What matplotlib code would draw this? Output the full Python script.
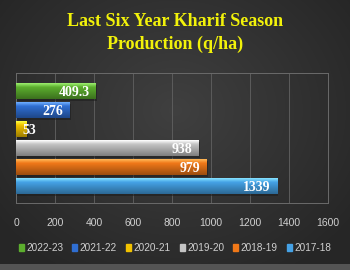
import numpy as np
import matplotlib
matplotlib.use("Agg")
import matplotlib.pyplot as plt
from matplotlib.colors import to_rgb

years = ["2017-18", "2018-19", "2019-20", "2020-21", "2021-22", "2022-23"]
values = [1339, 979, 938, 53, 276, 409.3]
labels = ["1339", "979", "938", "53", "276", "409.3"]
colors = ["#45a2e6", "#f07818", "#c4c4c4", "#f2c200", "#2f6ed2", "#5cae2e"]
xticks = [0, 200, 400, 600, 800, 1000, 1200, 1400, 1600]
title = "Last Six Year Kharif Season\nProduction (q/ha)"

fig = plt.figure(figsize=(3.5, 2.7), dpi=100)

# background gradient
bg = fig.add_axes([0, 0, 1, 1], zorder=-10)
yy, xx = np.mgrid[0:270, 0:350]
r = np.sqrt(((xx - 175) / 220) ** 2 + ((yy - 110) / 190) ** 2)
v = 0.25 - 0.10 * np.clip(r, 0, 1)
img = np.dstack([v, v, v])
img[264:, :, :] = 0.33
bg.imshow(img, aspect="auto", extent=[0, 1, 0, 1], origin="upper")
bg.set_axis_off()

ax = fig.add_axes([16 / 350, 1 - 203 / 270, (328 - 16) / 350, (203 - 73) / 270])
ax.set_facecolor("none")
ypos = np.arange(len(years))
bars = ax.barh(ypos, values, height=0.84, color=colors, zorder=3)

for b, c in zip(bars, colors):
    rgb = np.array(to_rgb(c))
    t = np.linspace(0, 1, 32)[:, None]
    light = np.clip(rgb + 0.25, 0, 1)
    dark = rgb * 0.65
    grad = np.where(t < 0.25, light + (rgb - light) * (t / 0.25), rgb + (dark - rgb) * ((t - 0.25) / 0.75))
    grad = grad[:, None, :].repeat(2, axis=1)
    x0, y0 = b.get_x(), b.get_y()
    w, h = b.get_width(), b.get_height()
    im = ax.imshow(grad, aspect="auto", extent=[x0, x0 + w, y0, y0 + h], origin="upper", zorder=4)
    im.set_clip_path(b)
    ax.barh(b.get_y() + h / 2 - 0.08, w, height=h, left=x0 + 6, color="#1a1a1a", alpha=0.5, zorder=2)

for yv, val, lab in zip(ypos, values, labels):
    if val < 100:
        ax.annotate(lab, (val, yv), xytext=(-3, -0.5), textcoords="offset points", ha="left", va="center",
                    color="white", fontsize=10, fontweight="bold", family="Liberation Serif", zorder=6)
    else:
        ax.annotate(lab, (val, yv), xytext=(-4.5, -0.5), textcoords="offset points", ha="right", va="center",
                    color="white", fontsize=10, fontweight="bold", family="Liberation Serif", zorder=6)

ax.set_xlim(0, 1600)
ax.set_ylim(-0.87, 5.97)
ax.set_xticks(xticks)
ax.set_xticklabels([str(t) for t in xticks])
ax.set_yticks([])
ax.tick_params(axis="x", length=0, pad=11, colors="#d0d0d0", labelsize=7.5)
for lbl in ax.get_xticklabels():
    lbl.set_family("Liberation Sans")
ax.grid(axis="x", color="#5c5c5c", linewidth=0.7, zorder=0)
for s in ax.spines.values():
    s.set_color("#6a6a6a")
    s.set_linewidth(0.7)

fig.text(0.5, 1 - 33 / 270, title, ha="center", va="center", color="#f2f20a", fontsize=13,
         fontweight="bold", family="Liberation Serif", linespacing=1.45)

order = [5, 4, 3, 2, 1, 0]
handles = [plt.Rectangle((0, 0), 1, 1, color=colors[i]) for i in order]
leg = fig.legend(handles, [years[i] for i in order], loc="center", bbox_to_anchor=(0.5, 1 - 248 / 270),
                 ncol=6, frameon=False, handlelength=0.5, handleheight=0.8,
                 handletextpad=0.25, columnspacing=0.9, labelcolor="#d0d0d0",
                 prop={"family": "Liberation Sans", "size": 7.2})

fig.savefig("out.png", dpi=100)
